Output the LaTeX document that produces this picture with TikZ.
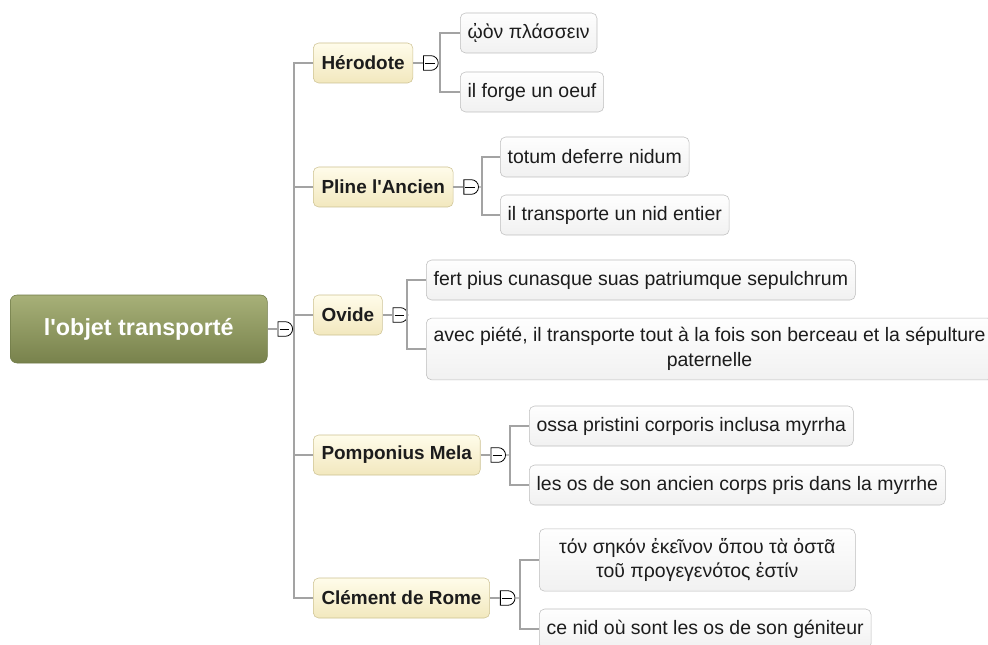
\documentclass[tikz,border=0pt]{standalone}
\usepackage{fontspec}
\setmainfont{Liberation Sans}
\usetikzlibrary{positioning,shapes.misc}

\definecolor{rootA}{HTML}{A7B078}
\definecolor{rootB}{HTML}{78824C}
\definecolor{rootline}{HTML}{6F7A47}
\definecolor{branchA}{HTML}{FFFCEA}
\definecolor{branchB}{HTML}{F2E8BE}
\definecolor{branchline}{HTML}{CDC292}
\definecolor{leafA}{HTML}{FEFEFE}
\definecolor{leafB}{HTML}{F1F1F1}
\definecolor{leafline}{HTML}{BEBEBE}
\definecolor{linkgray}{HTML}{A3A3A3}
\definecolor{inkdark}{HTML}{1C1C1C}

\tikzset{
  rootbox/.style={rounded corners=5pt, draw=rootline, top color=rootA, bottom color=rootB,
    text=white, font=\fontsize{17.5}{20}\selectfont\bfseries,
    minimum width=192.75pt, minimum height=51pt, anchor=west},
  branch/.style={rounded corners=4pt, draw=branchline, top color=branchA, bottom color=branchB,
    text=inkdark, font=\fontsize{14.2}{17}\selectfont\bfseries,
    minimum height=30pt, inner xsep=6.2pt, anchor=west},
  leaf/.style={rounded corners=4pt, draw=leafline, top color=leafA, bottom color=leafB,
    text=inkdark, font=\fontsize{14.6}{18.5}\selectfont, align=center,
    minimum height=30pt, inner xsep=5.5pt, inner ysep=7pt, anchor=west},
  toggle/.style={rounded rectangle, rounded rectangle left arc=none, draw=black, fill=white,
    line width=0.6pt, minimum width=10.5pt, minimum height=11pt, inner sep=0pt,
    path picture={\draw[line width=0.6pt] ([xshift=1.2pt]path picture bounding box.west)
      -- ([xshift=-2.6pt]path picture bounding box.east);}},
  link/.style={draw=linkgray, line width=1.1pt},
}

\begin{document}
\begin{tikzpicture}[x=0.75pt, y=-0.75pt]
    \useasboundingbox (0,0) rectangle (988,645);
    \fill[white] (0,0) rectangle (988,645);
    \clip (0,0) rectangle (988,645);

    \node[rootbox] (root) at (10,329) {l\textquotesingle objet transporté};
    \node[toggle, right=7.5pt of root] (rootT) {};
    \coordinate (trunk) at (294,329);

    \node[branch] (herodote) at (313,63) {Hérodote};
    \node[branch] (pline) at (313,187) {Pline l\textquotesingle Ancien};
    \node[branch] (ovide) at (313,315) {Ovide};
    \node[branch] (pomponius) at (313,455) {Pomponius Mela};
    \node[branch] (clement) at (313,598) {Clément de Rome};

    \node[toggle, right=7.5pt of herodote] (herodoteT) {};
    \node[toggle, right=7.5pt of pline] (plineT) {};
    \node[toggle, right=7.5pt of ovide] (ovideT) {};
    \node[toggle, right=7.5pt of pomponius] (pomponiusT) {};
    \node[toggle, right=7.5pt of clement] (clementT) {};

    \coordinate (herodoteV) at (440,63);
    \coordinate (plineV) at (482,187);
    \coordinate (ovideV) at (407,315);
    \coordinate (pomponiusV) at (510,455);
    \coordinate (clementV) at (520,598);

    \node[leaf] (herodoteA) at (460,33) {ᾠὸν πλάσσειν};
    \node[leaf] (herodoteB) at (460,92) {il forge un oeuf};
    \node[leaf] (plineA) at (500,157) {totum deferre nidum};
    \node[leaf] (plineB) at (500,215) {il transporte un nid entier};
    \node[leaf] (ovideA) at (426,280) {fert pius cunasque suas patriumque sepulchrum};
    \node[leaf] (ovideB) at (426,349) {avec piété, il transporte tout à la fois son berceau et la sépulture\\paternelle};
    \node[leaf] (pomponiusA) at (529,426) {ossa pristini corporis inclusa myrrha};
    \node[leaf] (pomponiusB) at (529,485) {les os de son ancien corps pris dans la myrrhe};
    \node[leaf, minimum width=237pt] (clementA) at (539,560) {τόν σηκόν ἐκεῖνον ὅπου τὰ ὀστᾶ\\τοῦ προγεγενότος ἐστίν};
    \node[leaf] (clementB) at (539,629) {ce nid où sont les os de son géniteur};

    \draw[link] (root) -- (rootT);
    \draw[link] (rootT) -- (trunk);
    \foreach \b in {herodote,pline,ovide,pomponius,clement}
        \draw[link] (trunk) |- (\b);

    \foreach \b in {herodote,pline,ovide,pomponius,clement} {
        \draw[link] (\b) -- (\b T);
        \draw[link] (\b T) -- (\b V);
        \draw[link] (\b V) |- (\b A);
        \draw[link] (\b V) |- (\b B);
    }
\end{tikzpicture}
\end{document}
